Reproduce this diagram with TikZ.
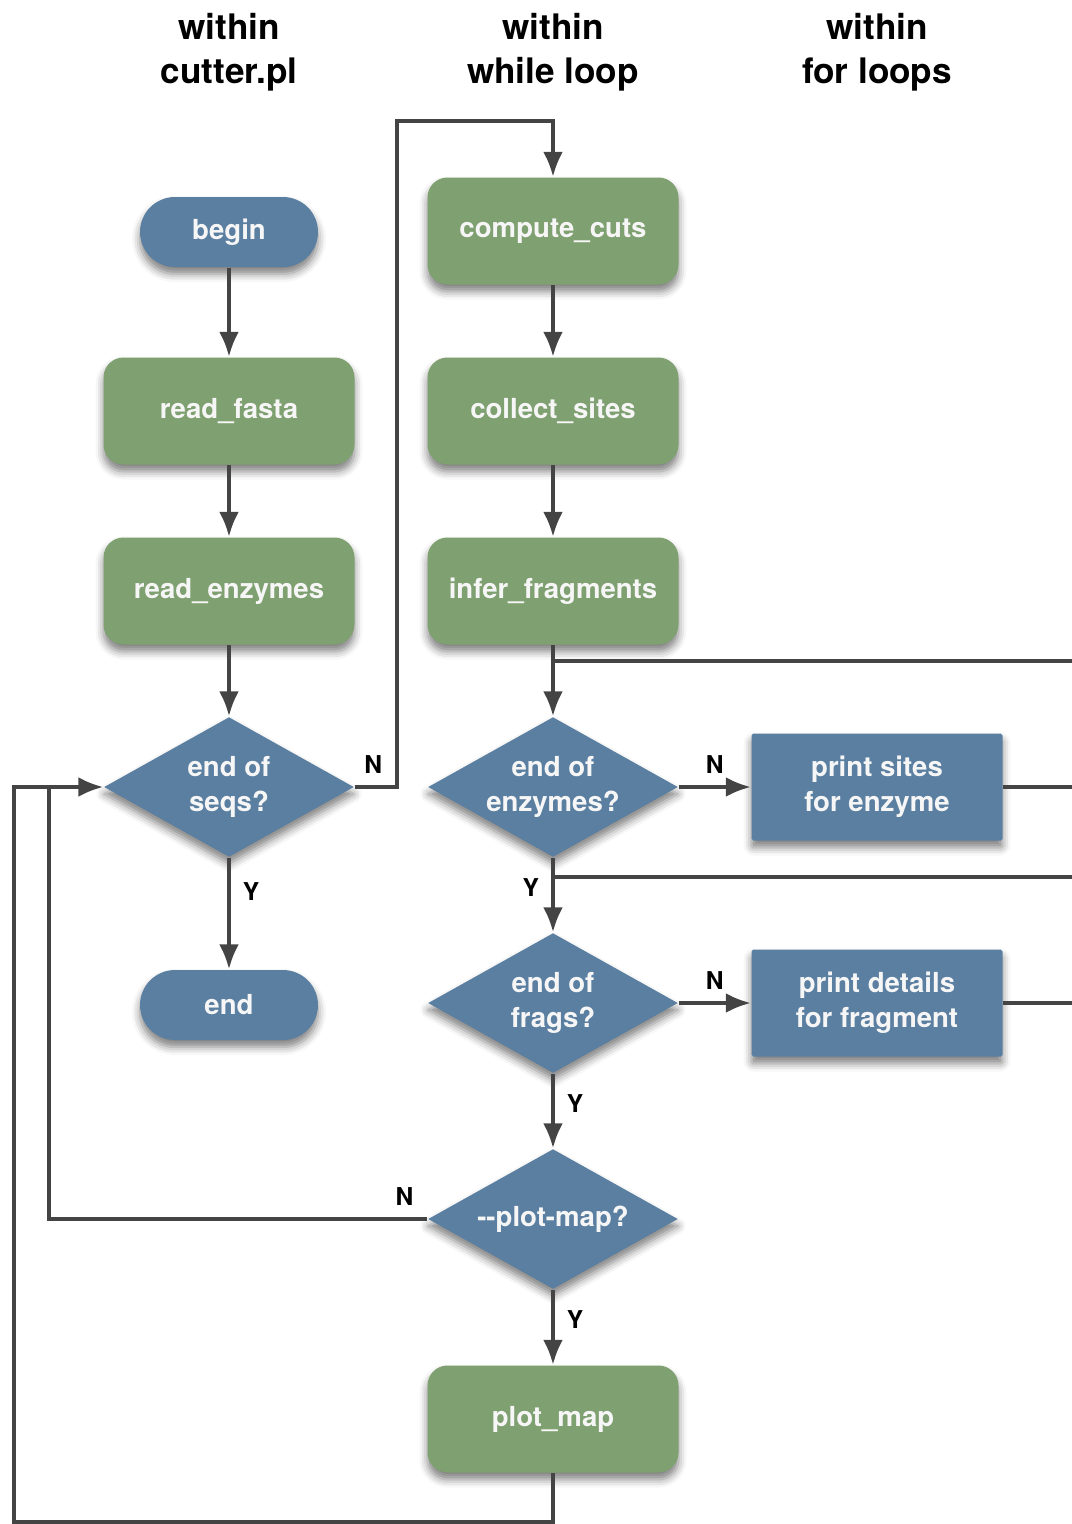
\documentclass[tikz,border=0pt]{standalone}
\usepackage{fontspec}
\setmainfont{TeX Gyre Heros}
\usetikzlibrary{shapes.geometric, arrows.meta, shadows.blur}
\definecolor{flowblue}{RGB}{91,127,161}
\definecolor{flowgreen}{RGB}{127,160,112}
\definecolor{flowline}{RGB}{68,68,68}
\begin{document}
\begin{tikzpicture}[
	box/.style={fill=flowgreen,text=white!93!gray,font=\fontsize{7.85}{9.96}\selectfont\bfseries,align=center,minimum width=2.51cm,minimum height=1.07cm,rounded corners=.2cm,blur shadow={shadow xshift=0pt,shadow yshift=-.07cm,shadow blur radius=.08cm,shadow opacity=50}},
	term/.style={box,fill=flowblue,minimum width=1.78cm,minimum height=.7cm,rounded corners=.35cm},
	act/.style={box,fill=flowblue,rounded corners=.5pt},
	test/.style={box,fill=flowblue,diamond,aspect=1.79,minimum width=2.5cm,minimum height=1.4cm,inner sep=0pt,sharp corners},
	head/.style={font=\fontsize{10}{12.5}\selectfont\bfseries,align=center},
	lbl/.style={font=\fontsize{7}{8}\selectfont\bfseries,inner sep=.12cm},
	line/.style={draw=flowline,line width=.037cm},
	arr/.style={line,-{Latex[length=.25cm,width=.2cm]}}]
			\useasboundingbox(0,0)rectangle(10.72,-15.24);
			\clip(0,0)rectangle(10.72,-15.24);
			\node[head](hmain)at(2.29,-.52){within\\cutter.pl};
			\node[head](hwhile)at(5.53,-.52){within\\while loop};
			\node[head](hfor)at(8.77,-.52){within\\for loops};
			\node[term](begin)at(2.29,-2.32){begin};
			\node[box](readfasta)at(2.29,-4.11){read\_fasta};
			\node[box](readenz)at(2.29,-5.91){read\_enzymes};
			\node[test](endseqs)at(2.29,-7.87){end of\\seqs?};
			\node[term](finish)at(2.29,-10.05){end};
			\node[box](cuts)at(5.53,-2.31){compute\_cuts};
			\node[box](sites)at(5.53,-4.11){collect\_sites};
			\node[box](frags)at(5.53,-5.91){infer\_fragments};
			\node[test](endenz)at(5.53,-7.87){end of\\enzymes?};
			\node[test](endfrags)at(5.53,-10.03){end of\\frags?};
			\node[test](plotq)at(5.53,-12.19){-\kern0pt-plot-map?};
			\node[box](plotmap)at(5.53,-14.19){plot\_map};
			\node[act](printsites)at(8.77,-7.87){print sites\\for enzyme};
			\node[act](printdetails)at(8.77,-10.03){print details\\for fragment};
			\coordinate(topturn)at(3.97,-1.21);
			\coordinate(eastloopA)at(10.85,-6.61);
			\coordinate(eastloopB)at(10.85,-8.77);
			\coordinate(westturn)at(.49,-7.87);
			\coordinate(bottomturn)at(.14,-15.22);
			\draw[arr](begin)--(readfasta);
			\draw[arr](readfasta)--(readenz);
			\draw[arr](readenz)--(endseqs);
			\draw[arr](endseqs)--node[lbl,right,pos=.3]{Y}(finish);
			\draw[arr](endseqs.east)-|node[lbl,above,pos=.22]{N}(topturn)-|(cuts.north);
			\draw[arr](cuts)--(sites);
			\draw[arr](sites)--(frags);
			\draw[arr](frags)--(endenz);
			\draw[arr](endenz)--node[lbl,above]{N}(printsites);
			\draw[line](printsites.east)-|(eastloopA)--(frags.south|-eastloopA);
			\draw[arr](endenz)--node[lbl,left,pos=.4]{Y}(endfrags);
			\draw[arr](endfrags)--node[lbl,above]{N}(printdetails);
			\draw[line](printdetails.east)-|(eastloopB)--(endenz.south|-eastloopB);
			\draw[arr](endfrags)--node[lbl,right,pos=.4]{Y}(plotq);
			\draw[arr](plotq.west)-|node[lbl,above left,pos=0]{N}(westturn)--(endseqs.west);
			\draw[arr](plotq)--node[lbl,right,pos=.4]{Y}(plotmap);
			\draw[line](plotmap.south)|-(bottomturn)|-(westturn);
		\end{tikzpicture}
\end{document}
